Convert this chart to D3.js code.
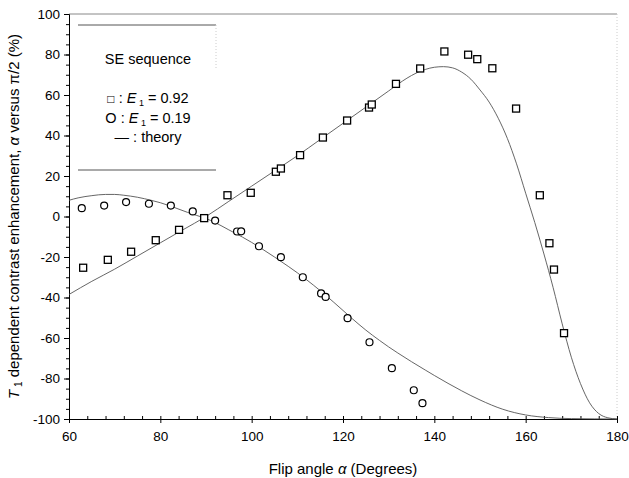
<!DOCTYPE html>
<html>
<head>
<meta charset="utf-8">
<script src="https://cdn.jsdelivr.net/npm/d3@7/dist/d3.min.js"></script>
<style>
  body { margin: 0; background: #fff; }
  svg { font-family: "Liberation Sans", Arial, sans-serif; }
</style>
</head>
<body>
<div id="chart"></div>
<script>
// Dữ liệu đo: E1 = 0.92 (ô vuông)
const squareX = [63.1, 68.5, 73.6, 79.0, 84.1, 89.6, 94.7, 99.8, 105.3, 106.4, 110.6, 115.6, 120.9, 125.7, 126.3, 131.6, 136.9, 142.2, 147.4, 149.4, 152.7, 157.9, 163.1, 165.2, 166.2, 168.4];
const squareY = [-25.3, -21.4, -17.4, -11.7, -6.6, -0.8, 10.5, 11.7, 22.1, 23.7, 30.3, 39.0, 47.4, 53.8, 55.3, 65.5, 73.1, 81.5, 79.9, 77.7, 73.2, 53.3, 10.5, -13.2, -26.2, -57.6];

// Dữ liệu đo: E1 = 0.19 (hình tròn)
const circleX = [62.8, 67.7, 72.5, 77.5, 82.3, 87.1, 92.0, 96.8, 97.7, 101.6, 106.4, 111.2, 115.2, 116.2, 121.0, 125.8, 130.7, 135.5, 137.4];
const circleY = [4.1, 5.4, 7.1, 6.3, 5.4, 2.5, -2.0, -7.4, -7.3, -14.7, -20.1, -30.0, -38.0, -39.7, -50.2, -62.1, -74.9, -85.8, -92.2];

// Đường lý thuyết
const theoryAX = [60, 65, 70, 75, 80, 85, 90, 95, 100, 105, 110, 115, 120, 125, 130, 132, 134, 136, 138, 140, 142, 144, 146, 148, 150, 152, 154, 156, 158, 160, 162, 164, 166, 168, 170, 172, 174, 176, 178, 180];
const theoryAY = [-38.5, -32, -26, -19.5, -13, -6.5, 0, 7.5, 15, 22.5, 30, 38, 46, 54, 62, 65.3, 68.3, 70.8, 72.6, 73.7, 74, 73.4, 71.3, 67.8, 62.5, 56.5, 48.5, 38.5, 26, 11.5, -3, -18.5, -35, -53, -69.5, -82.5, -92, -97.3, -99.4, -100];
const theoryBX = [60, 62, 65, 68, 70, 72, 75, 78, 80, 83, 86, 88, 90, 92, 95, 98, 100, 102, 105, 108, 110, 112, 115, 118, 120, 122, 125, 128, 130, 132, 135, 138, 140, 143, 146, 150, 155, 160, 165, 170, 180];
const theoryBY = [8, 9.2, 10.3, 10.9, 10.9, 10.5, 9.5, 8, 6.8, 4.5, 2, 0.5, -1, -3, -6.6, -10.2, -12.8, -15.6, -20, -24.6, -27.8, -31.2, -36.6, -42.4, -46.4, -50.4, -56.1, -61.2, -64.4, -67.4, -71.7, -75.8, -78.5, -82.4, -86.1, -90.6, -95.2, -98, -99.3, -99.8, -100];

const xTicks = [60, 80, 100, 120, 140, 160, 180];
const yTicks = [-100, -80, -60, -40, -20, 0, 20, 40, 60, 80, 100];

const W = 629, H = 478;
const svg = d3.select("#chart").append("svg")
    .attr("width", W)
    .attr("height", H);

const x = d3.scaleLinear().domain([60, 180]).range([69, 617]);
const y = d3.scaleLinear().domain([-100, 100]).range([419, 14]);

// Khung trên và phải
svg.append("line")
    .attr("x1", x(60)).attr("x2", x(180))
    .attr("y1", y(100)).attr("y2", y(100))
    .attr("stroke", "#888").attr("stroke-width", 1);
svg.append("line")
    .attr("x1", x(180)).attr("x2", x(180))
    .attr("y1", y(100)).attr("y2", y(-100))
    .attr("stroke", "#ccc").attr("stroke-width", 1)
    .attr("stroke-dasharray", "1,2");

// Trục x
const xAxis = svg.append("g")
    .attr("transform", `translate(0,${y(-100)})`)
    .call(d3.axisBottom(x).tickValues(xTicks).tickSize(4).tickFormat(d => d));
xAxis.selectAll(".tick text").attr("dy", 0).attr("y", 22).style("font-size", "13.5px");

svg.append("g")
    .attr("transform", `translate(0,${y(-100)})`)
    .call(d3.axisTop(x).tickValues(d3.range(60, 181, 4)).tickSize(3).tickFormat(""))
    .call(g => g.select(".domain").remove());

// Trục y
const yAxis = svg.append("g")
    .attr("transform", `translate(${x(60)},0)`)
    .call(d3.axisLeft(y).tickValues(yTicks).tickSize(5).tickFormat(d => d));
yAxis.selectAll(".tick text").attr("x", -9).style("font-size", "13.5px");

svg.append("g")
    .attr("transform", `translate(${x(60)},0)`)
    .call(d3.axisLeft(y).tickValues(d3.range(-100, 101, 5)).tickSize(3).tickFormat(""))
    .call(g => g.select(".domain").remove());

svg.selectAll(".tick line").attr("stroke", "#000");
svg.selectAll(".domain").attr("stroke", "#000");

// Đường lý thuyết
const line = d3.line().x(d => x(d[0])).y(d => y(d[1])).curve(d3.curveMonotoneX);
svg.append("path")
    .datum(theoryAX.map((v, i) => [v, theoryAY[i]]))
    .attr("d", line)
    .attr("fill", "none").attr("stroke", "#555").attr("stroke-width", 0.9);
svg.append("path")
    .datum(theoryBX.map((v, i) => [v, theoryBY[i]]))
    .attr("d", line)
    .attr("fill", "none").attr("stroke", "#555").attr("stroke-width", 0.9);

// Điểm vuông
svg.selectAll(".sq")
    .data(squareX.map((v, i) => [v, squareY[i]]))
    .enter().append("rect")
    .attr("class", "sq")
    .attr("x", d => x(d[0]) - 3.5)
    .attr("y", d => y(d[1]) - 3.5)
    .attr("width", 7).attr("height", 7)
    .attr("fill", "#fff").attr("stroke", "#000").attr("stroke-width", 1.3);

// Điểm tròn
svg.selectAll(".ci")
    .data(circleX.map((v, i) => [v, circleY[i]]))
    .enter().append("circle")
    .attr("class", "ci")
    .attr("cx", d => x(d[0]))
    .attr("cy", d => y(d[1]))
    .attr("r", 3.5)
    .attr("fill", "#fff").attr("stroke", "#000").attr("stroke-width", 1.2);

// Chú giải
const lg = svg.append("g");
lg.append("line").attr("x1", 78).attr("x2", 216).attr("y1", 25).attr("y2", 25).attr("stroke", "#555");
lg.append("line").attr("x1", 78).attr("x2", 216).attr("y1", 170).attr("y2", 170).attr("stroke", "#555");
lg.append("line").attr("x1", 216).attr("x2", 216).attr("y1", 25).attr("y2", 70)
    .attr("stroke", "#ccc").attr("stroke-dasharray", "1,2");

lg.append("text").attr("x", 148).attr("y", 64).attr("text-anchor", "middle")
    .style("font-size", "14.5px").text("SE sequence");

const t1 = lg.append("text").attr("x", 148).attr("y", 103).attr("text-anchor", "middle").style("font-size", "14.5px");
t1.append("tspan").style("font-size", "12px").text("\u25A1");
t1.append("tspan").text(" : ");
t1.append("tspan").style("font-style", "italic").text("E");
t1.append("tspan").attr("dy", 3).style("font-size", "9px").text(" 1");
t1.append("tspan").attr("dy", -3).text(" = 0.92");

const t2 = lg.append("text").attr("x", 148).attr("y", 123).attr("text-anchor", "middle").style("font-size", "14.5px");
t2.append("tspan").text("O : ");
t2.append("tspan").style("font-style", "italic").text("E");
t2.append("tspan").attr("dy", 3).style("font-size", "9px").text(" 1");
t2.append("tspan").attr("dy", -3).text(" = 0.19");

lg.append("text").attr("x", 148).attr("y", 142).attr("text-anchor", "middle")
    .style("font-size", "14.5px").text("\u2014 : theory");

// Tiêu đề trục
const xt = svg.append("text").attr("x", 343).attr("y", 474).attr("text-anchor", "middle").style("font-size", "15px");
xt.append("tspan").text("Flip angle ");
xt.append("tspan").style("font-style", "italic").text("\u03B1");
xt.append("tspan").text("  (Degrees)");

const yt = svg.append("text")
    .attr("transform", `translate(19,${y(0)}) rotate(-90)`)
    .attr("text-anchor", "middle").style("font-size", "15px");
yt.append("tspan").style("font-style", "italic").text("T");
yt.append("tspan").attr("dy", 3).style("font-size", "10px").text(" 1");
yt.append("tspan").attr("dy", -3).text(" dependent contrast enhancement, ");
yt.append("tspan").style("font-style", "italic").text("\u03B1");
yt.append("tspan").text(" versus \u03C0/2 (%)");
</script>
</body>
</html>
